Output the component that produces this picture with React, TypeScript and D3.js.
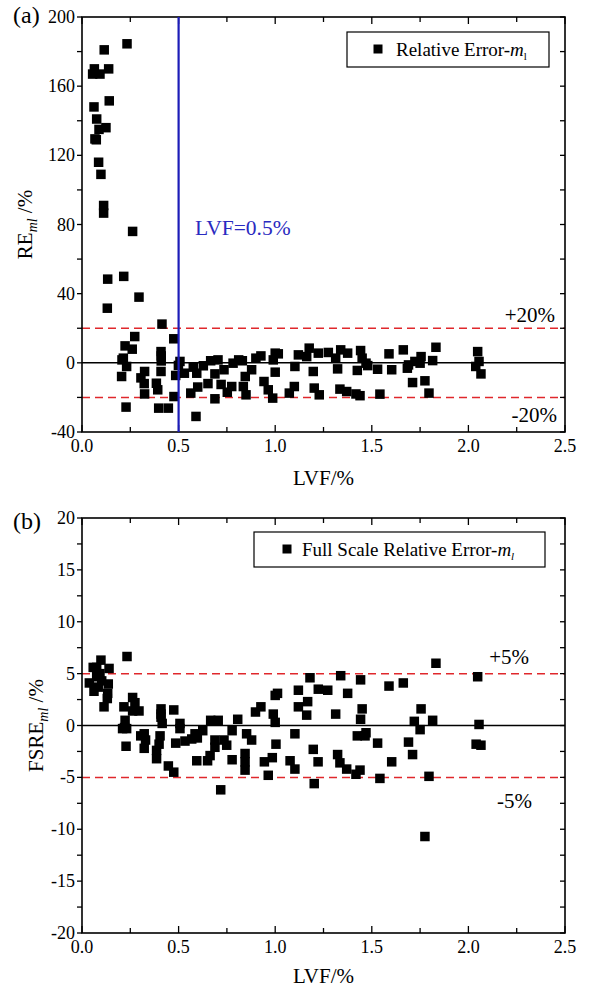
import React, { useEffect, useRef } from 'react';
import * as d3 from 'd3';

// panel (a): relative error of m_l vs LVF
const lvfA = [
  0.233, 0.115, 0.064, 0.055, 0.093, 0.138, 0.141, 0.062, 0.076, 0.088, 0.124, 0.067, 0.074, 0.086, 0.098,
  0.112, 0.112, 0.262, 0.133, 0.216, 0.295, 0.131, 0.414, 0.273, 0.475, 0.223, 0.26, 0.409, 0.41, 0.41,
  0.207, 0.214, 0.231, 0.507, 0.499, 0.53, 0.485, 0.205, 0.324, 0.305, 0.322, 0.385, 0.392, 0.324, 0.409,
  0.476, 0.228, 0.397, 0.447, 0.576, 0.594, 0.628, 0.599, 0.563, 0.59, 0.652, 0.666, 0.704, 0.688, 0.688,
  0.72, 0.735, 0.752, 0.775, 0.782, 0.811, 0.83, 0.845, 0.835, 0.849, 0.878, 0.9, 0.926, 0.942, 0.964,
  0.987, 0.99, 1.0, 1.016, 1.0, 1.073, 1.099, 1.102, 1.12, 1.163, 1.176, 1.223, 1.197, 1.202, 1.228,
  1.275, 1.313, 1.339, 1.375, 1.323, 1.335, 1.37, 1.418, 1.439, 1.442, 1.45, 1.47, 1.479, 1.425, 1.53,
  1.542, 1.589, 1.603, 1.663, 1.684, 1.69, 1.711, 1.723, 1.75, 1.755, 1.775, 1.796, 1.815, 1.832, 2.048,
  2.055, 2.038, 2.065,
];
const reA = [
  184.5, 181, 170, 167, 167, 170, 151.5, 148, 141, 135, 136, 129.5, 129, 116, 109,
  91, 86.6, 76, 48.4, 50, 38, 31.6, 22.4, 15.2, 13.9, 9.8, 7.9, 6.5, 4, 1.1,
  1.7, 2.7, -2.1, 0.8, -1.5, -6, -7.3, -7.9, -5, -8.7, -12, -11.8, -15.6, -18, -5,
  -19.5, -25.6, -26.2, -26.2, -2.5, -6, -1.7, -14, -17.5, -31, -12, 1.2, 1.7, -6.4, -20.8,
  -12.5, -4, -17, -13.7, -0.2, 1.7, 1.2, -7.9, -13.7, -18.5, -4, 2.7, 4, -10.8, -15.6,
  -20.4, 1.7, 5.6, 5.2, -5.4, -17.5, -13.7, -2.1, 4.6, 3.6, 8.5, 5.6, -5, -14.6, -18.5,
  6, 2.7, 7.5, 5.6, -3.5, -15.2, -16.6, -18, -19, 7.1, 2.7, -0.2, -1.6, -4.4, -3.7,
  -18.1, 5.2, -4, 7.5, -3.1, -1.2, -11.4, 0.8, -0.2, 3.6, -10.4, -17.5, 1.3, 9, 6.5,
  0.8, -2.1, -6.4,
];

// panel (b): full scale relative error of m_l vs LVF
const lvfB = [
  0.233, 0.098, 0.076, 0.058, 0.038, 0.062, 0.093, 0.076, 0.14, 0.136, 0.133, 0.131, 0.114, 0.084, 0.102,
  0.217, 0.262, 0.274, 0.262, 0.295, 0.223, 0.21, 0.231, 0.409, 0.409, 0.415, 0.475, 0.507, 0.507, 0.322,
  0.22, 0.228, 0.304, 0.329, 0.322, 0.409, 0.404, 0.399, 0.386, 0.386, 0.447, 0.475, 0.485, 0.533, 0.568,
  0.585, 0.597, 0.594, 0.625, 0.65, 0.663, 0.666, 0.705, 0.688, 0.688, 0.718, 0.735, 0.749, 0.777, 0.777,
  0.806, 0.852, 0.878, 0.844, 0.844, 0.844, 0.898, 0.926, 0.944, 0.985, 0.964, 0.99, 1.0, 1.004, 1.0,
  1.012, 1.102, 1.077, 1.102, 1.12, 1.12, 1.18, 1.168, 1.163, 1.223, 1.272, 1.197, 1.222, 1.202, 1.339,
  1.375, 1.313, 1.323, 1.335, 1.37, 1.418, 1.439, 1.442, 1.45, 1.442, 1.425, 1.465, 1.47, 1.53, 1.542,
  1.589, 1.603, 1.663, 1.69, 1.711, 1.72, 1.75, 1.755, 1.775, 1.796, 1.815, 1.832, 2.048, 2.055, 2.04,
  2.065,
];
const fsreB = [
  6.65, 6.3, 5.6, 5.6, 4.1, 3.3, 5.0, 4.7, 5.5, 4.0, 3.1, 2.6, 1.8, 3.7, 4.3,
  1.8, 2.7, 2.2, 1.4, 1.4, 0.5, -0.3, -0.3, 1.6, 1.1, 0.2, 1.5, 0.2, -0.3, -0.8,
  -0.2, -2.0, -1.0, -1.4, -2.2, 0.8, -1.0, -1.8, -2.4, -3.2, -3.9, -4.5, -1.7, -1.5, -1.3,
  -0.8, -1.2, -3.4, -0.5, -3.4, -2.9, 0.5, 0.5, -1.4, -2.1, -6.2, -1.4, -1.9, -0.5, -3.3,
  0.6, -0.8, -1.4, -3.5, -2.7, -4.3, 1.3, 1.8, -3.5, -3.1, -4.8, 1.1, 0.3, -1.8, 2.9,
  3.1, -0.8, -3.4, -4.2, 1.8, 3.4, 4.6, 2.3, 1.0, 3.5, 3.4, -2.3, -3.5, -5.6, 4.8,
  3.1, 1.1, -2.8, -3.6, -4.2, -4.7, -4.3, 4.4, 1.6, 0.6, -1.0, -1.0, -0.7, -1.7, -5.1,
  3.8, -3.5, 4.1, -1.6, -2.8, 0.4, -0.4, 1.6, -10.7, -4.9, 0.5, 6.0, 4.7, 0.1, -1.8,
  -1.9,
];

const xTicks = [0, 0.5, 1.0, 1.5, 2.0, 2.5];
const yTicksA = [-40, 0, 40, 80, 120, 160, 200];
const yTicksB = [-20, -15, -10, -5, 0, 5, 10, 15, 20];
const limitA = 20;
const limitB = 5;
const lvfMark = 0.5;

const FONT = '"Liberation Serif", "Times New Roman", serif';
const W = 590;
const H = 991;

function drawPanel(g, opts) {
  const { x, y, yTicks, yStep, xs, ys, limit, limitLabel, lim, tag, tagY, legend, yLabel, labelX, xLabelDy } = opts;
  const [x0, x1] = x.range();
  const [yb, yt] = y.range();

  // dashed limits
  [limit, -limit].forEach(v => {
    g.append('line')
      .attr('x1', x0).attr('x2', x1)
      .attr('y1', y(v)).attr('y2', y(v))
      .attr('stroke', '#e0282c').attr('stroke-width', 1.5)
      .attr('stroke-dasharray', '8,5');
  });
  // zero line
  g.append('line')
    .attr('x1', x0).attr('x2', x1)
    .attr('y1', y(0)).attr('y2', y(0))
    .attr('stroke', '#000').attr('stroke-width', 1.5);

  // points
  const s = 9.5;
  g.append('g').selectAll('rect')
    .data(xs.map((v, i) => [v, ys[i]]))
    .join('rect')
    .attr('x', d => x(d[0]) - s / 2)
    .attr('y', d => y(d[1]) - s / 2)
    .attr('width', s).attr('height', s)
    .attr('fill', '#000');

  // frame
  g.append('rect')
    .attr('x', x0).attr('y', yt)
    .attr('width', x1 - x0).attr('height', yb - yt)
    .attr('fill', 'none').attr('stroke', '#000').attr('stroke-width', 1.6);

  // x ticks (inward on bottom and top)
  d3.range(0, 2.5001, 0.25).forEach(v => {
    const major = Math.abs(v * 2 - Math.round(v * 2)) < 1e-6;
    const len = major ? 7 : 5;
    g.append('line').attr('x1', x(v)).attr('x2', x(v)).attr('y1', yb).attr('y2', yb - len)
      .attr('stroke', '#000').attr('stroke-width', 1.3);
    g.append('line').attr('x1', x(v)).attr('x2', x(v)).attr('y1', yt).attr('y2', yt + len)
      .attr('stroke', '#000').attr('stroke-width', 1.3);
  });
  g.append('g').selectAll('text')
    .data(xTicks)
    .join('text')
    .attr('x', d => x(d)).attr('y', yb + 20)
    .attr('text-anchor', 'middle')
    .attr('font-size', 18)
    .text(d => d.toFixed(1));

  // y ticks (outward on left, inward on right)
  const [lo, hi] = y.domain();
  d3.range(lo, hi + 1e-6, yStep / 2).forEach(v => {
    g.append('line').attr('x1', x0).attr('x2', x0 - 5).attr('y1', y(v)).attr('y2', y(v))
      .attr('stroke', '#000').attr('stroke-width', 1.3);
    g.append('line').attr('x1', x1).attr('x2', x1 - 5).attr('y1', y(v)).attr('y2', y(v))
      .attr('stroke', '#000').attr('stroke-width', 1.3);
  });
  g.append('g').selectAll('text')
    .data(yTicks)
    .join('text')
    .attr('x', x0 - 7).attr('y', d => y(d) + 6)
    .attr('text-anchor', 'end')
    .attr('font-size', 18)
    .text(d => String(d));

  // limit labels
  g.append('text').attr('x', lim.px).attr('y', y(limit) + lim.pdy)
    .attr('text-anchor', 'end').attr('font-size', 21).text('+' + limitLabel);
  g.append('text').attr('x', lim.mx).attr('y', y(-limit) + lim.mdy)
    .attr('text-anchor', 'end').attr('font-size', 21).text('-' + limitLabel);

  // panel tag
  g.append('text').attr('x', 13).attr('y', tagY)
    .attr('font-size', 24).text(tag);

  // x label
  g.append('text').attr('x', (x0 + x1) / 2).attr('y', yb + xLabelDy)
    .attr('text-anchor', 'middle').attr('font-size', 21).text('LVF/%');

  // y label
  const yl = g.append('text')
    .attr('transform', `translate(${labelX},${(yt + yb) / 2}) rotate(-90)`)
    .attr('text-anchor', 'middle').attr('font-size', 21);
  yl.append('tspan').text(yLabel);
  yl.append('tspan').attr('font-style', 'italic').attr('font-size', 14).attr('dy', 5).text('ml');
  yl.append('tspan').attr('dy', -5).text(' /%');

  // legend
  const { bx, by, bw, bh, mx, tx, text, subItalic } = legend;
  g.append('rect').attr('x', bx).attr('y', by).attr('width', bw).attr('height', bh)
    .attr('fill', '#fff').attr('stroke', '#000').attr('stroke-width', 1.2);
  g.append('rect').attr('x', mx - 4.5).attr('y', by + bh / 2 - 5).attr('width', 9).attr('height', 9)
    .attr('fill', '#000');
  const lt = g.append('text').attr('x', tx).attr('y', by + bh / 2 + 6).attr('font-size', 19);
  lt.append('tspan').text(text);
  lt.append('tspan').attr('font-style', 'italic').text('m');
  lt.append('tspan').attr('font-size', 11).attr('dy', 4)
    .attr('font-style', subItalic ? 'italic' : 'normal').text('l');
}

const App = () => {
  const svgRef = useRef(null);

  useEffect(() => {
    const svg = d3.select(svgRef.current);
    svg.selectAll('*').remove();
    svg.attr('font-family', FONT);

    const x = d3.scaleLinear().domain([0, 2.5]).range([82, 565]);
    const yA = d3.scaleLinear().domain([-40, 200]).range([432, 17]);
    const yB = d3.scaleLinear().domain([-20, 20]).range([933, 518]);

    const gA = svg.append('g');
    drawPanel(gA, {
      x, y: yA, yTicks: yTicksA, yStep: 40, xs: lvfA, ys: reA,
      limit: limitA, limitLabel: '20%', lim: { px: 555, pdy: -6, mx: 557, mdy: 25 },
      tag: '(a)', tagY: 23, yLabel: 'RE', labelX: 32, xLabelDy: 53,
      legend: { bx: 347, by: 32, bw: 202, bh: 35, mx: 378, tx: 396, text: 'Relative Error-', subItalic: false },
    });

    // LVF = 0.5% marker line
    gA.append('line')
      .attr('x1', x(lvfMark)).attr('x2', x(lvfMark))
      .attr('y1', yA(200)).attr('y2', yA(-40))
      .attr('stroke', '#1c1cb8').attr('stroke-width', 2.2);
    gA.append('text').attr('x', 195).attr('y', 235)
      .attr('font-size', 21.5).attr('fill', '#2a2ac0').text('LVF=0.5%');

    drawPanel(svg.append('g'), {
      x, y: yB, yTicks: yTicksB, yStep: 5, xs: lvfB, ys: fsreB,
      limit: limitB, limitLabel: '5%', lim: { px: 529, pdy: -10, mx: 532, mdy: 31 },
      tag: '(b)', tagY: 529, yLabel: 'FSRE', labelX: 43, xLabelDy: 50,
      legend: { bx: 254, by: 532, bw: 291, bh: 35, mx: 287, tx: 302, text: 'Full Scale Relative Error-', subItalic: true },
    });
  }, []);

  return (
    <svg
      ref={svgRef}
      width={W}
      height={H}
      style={{ position: 'absolute', left: 0, top: 0, background: '#fff' }}
    />
  );
};

export default App;
